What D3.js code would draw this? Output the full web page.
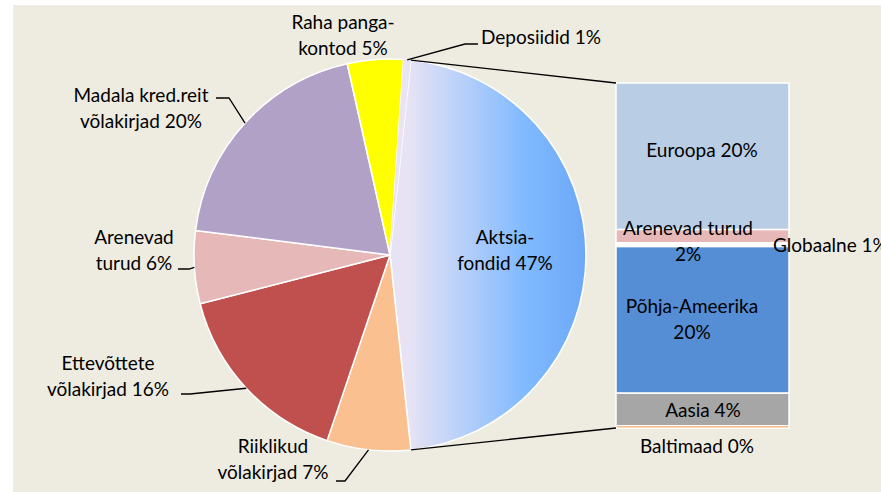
<!DOCTYPE html>
<html>
<head>
<meta charset="utf-8">
<script src="https://cdn.jsdelivr.net/npm/d3@7"></script>
<style>
  html, body { margin: 0; padding: 0; background: #fff; }
  svg { display: block; }
  text { font-family: Lato, "Open Sans", sans-serif; font-size: 19px; fill: #000; }
</style>
</head>
<body>
<svg id="chart" width="881" height="492"></svg>
<script>
// --- data ---
// pie slices, clockwise starting with the split-off slice
const pieNames = ["Aktsia-\nfondid", "Riiklikud\nvõlakirjad", "Ettevõttete\nvõlakirjad", "Arenevad\nturud", "Madala kred.reit\nvõlakirjad", "Raha panga-\nkontod", "Deposiidid"];
const pieValues = [46.6, 6.9, 15.8, 6.0, 19.5, 4.6, 0.6];
// breakdown of the equity funds (bar of pie), top to bottom
const barNames = ["Euroopa", "Arenevad turud\n", "Globaalne", "Põhja-Ameerika\n", "Aasia", "Baltimaad"];
const barValues = [19.8, 1.8, 0.5, 19.8, 4.4, 0.3];

// --- styles / layout ---
const pieColors = ["url(#aktsiaGrad)", "#FAC090", "#C0504D", "#E6B9B8", "#B2A1C7", "#FFFF00", "#E9E4F3"];
const barColors = ["#B9CDE5", "#E6B9B8", "#FFFFFF", "#558ED5", "#A6A6A6", "#E46C0A"];
const cx = 390, cy = 255, R = 196;
const barX0 = 616, barX1 = 789, barTop = 83, barBottom = 428;
const lineH = 26;

// label placement (centre x, first-line centre y), plus leader knees
const pieLabelPos = [
  {x: 505, y: 237},
  {x: 273, y: 446, leader: [[336, 481], [345, 481]]},
  {x: 108, y: 363, leader: [[181, 394], [190, 394]]},
  {x: 134, y: 237, leader: [[178, 269], [189, 269]]},
  {x: 141, y: 95, leader: [[216, 98], [229, 98]]},
  {x: 343, y: 22},
  {x: 481, y: 37, anchor: "start", leader: [[478, 44], [465, 44]]}
];
const barLabelPos = [
  {x: 702, y: 150},
  {x: 688, y: 228},
  {x: 773, y: 245, anchor: "start"},
  {x: 692, y: 306},
  {x: 703, y: 410},
  {x: 697, y: 446}
];

const svg = d3.select("#chart");

svg.append("rect").attr("x", 13).attr("y", 5).attr("width", 868).attr("height", 487).attr("fill", "#EEECE1");

const defs = svg.append("defs");
const grad = defs.append("linearGradient").attr("id", "aktsiaGrad")
  .attr("gradientUnits", "userSpaceOnUse")
  .attr("x1", 18).attr("y1", 0).attr("x2", R).attr("y2", 0);
grad.append("stop").attr("offset", 0).attr("stop-color", "#E8E3F4");
grad.append("stop").attr("offset", 0.65).attr("stop-color", "#80BAFF");
grad.append("stop").attr("offset", 1).attr("stop-color", "#6DA8F7");

const total = d3.sum(pieValues);
const pct = v => Math.round(v / total * 100) + "%";

// first slice centred on the right side
const a0 = Math.PI / 2 - (pieValues[0] / total) * Math.PI;
const pie = d3.pie().sort(null).startAngle(a0).endAngle(a0 + 2 * Math.PI);
const arcs = pie(pieValues);
const arc = d3.arc().innerRadius(0).outerRadius(R);
const onRim = a => [cx + R * Math.sin(a), cy - R * Math.cos(a)];

const g = svg.append("g").attr("transform", `translate(${cx},${cy})`);
g.selectAll("path").data(arcs).join("path")
  .attr("d", arc)
  .attr("fill", (d, i) => pieColors[i])
  .attr("stroke", (d, i) => i === 6 ? "none" : "#fff")
  .attr("stroke-width", 1.5)
  .attr("stroke-linejoin", "round");

// bar of pie
const yBar = d3.scaleLinear().domain([0, d3.sum(barValues)]).range([barTop, barBottom]);
const cum = d3.cumsum(barValues);
const segs = barValues.map((v, i) => ({v, i, y0: yBar(cum[i] - v), y1: yBar(cum[i])}));
svg.append("g").selectAll("rect").data(segs).join("rect")
  .attr("x", barX0).attr("width", barX1 - barX0)
  .attr("y", d => d.y0).attr("height", d => Math.max(0.5, d.y1 - d.y0))
  .attr("fill", d => barColors[d.i])
  .attr("stroke", "#fff").attr("stroke-width", 1.5);

// connector lines
const line = d3.line();
const pTop = onRim(arcs[0].startAngle), pBot = onRim(arcs[0].endAngle);
svg.append("path").attr("d", line([pTop, [barX0, yBar(0)]]))
  .attr("stroke", "#000").attr("stroke-width", 1.3).attr("fill", "none");
svg.append("path").attr("d", line([pBot, [barX0, yBar(d3.sum(barValues))]]))
  .attr("stroke", "#000").attr("stroke-width", 1.3).attr("fill", "none");

// leaders
arcs.forEach((d, i) => {
  const p = pieLabelPos[i];
  if (!p.leader) return;
  const mid = (d.startAngle + d.endAngle) / 2;
  svg.append("path").attr("d", line([...p.leader, onRim(mid)]))
    .attr("stroke", "#000").attr("stroke-width", 1.3).attr("fill", "none");
});

function multiText(x, y, str, anchor) {
  const t = svg.append("text").attr("text-anchor", anchor || "middle");
  str.split("\n").forEach((s, k) => {
    t.append("tspan").attr("x", x).attr("y", y + k * lineH).attr("dy", "0.35em").text(s);
  });
}

arcs.forEach((d, i) => {
  const p = pieLabelPos[i];
  multiText(p.x, p.y, pieNames[i] + " " + pct(pieValues[i]), p.anchor);
});
barValues.forEach((v, i) => {
  const p = barLabelPos[i];
  const name = barNames[i];
  const sep = name.endsWith("\n") ? "" : " ";
  multiText(p.x, p.y, name + sep + pct(v), p.anchor);
});
</script>
</body>
</html>
